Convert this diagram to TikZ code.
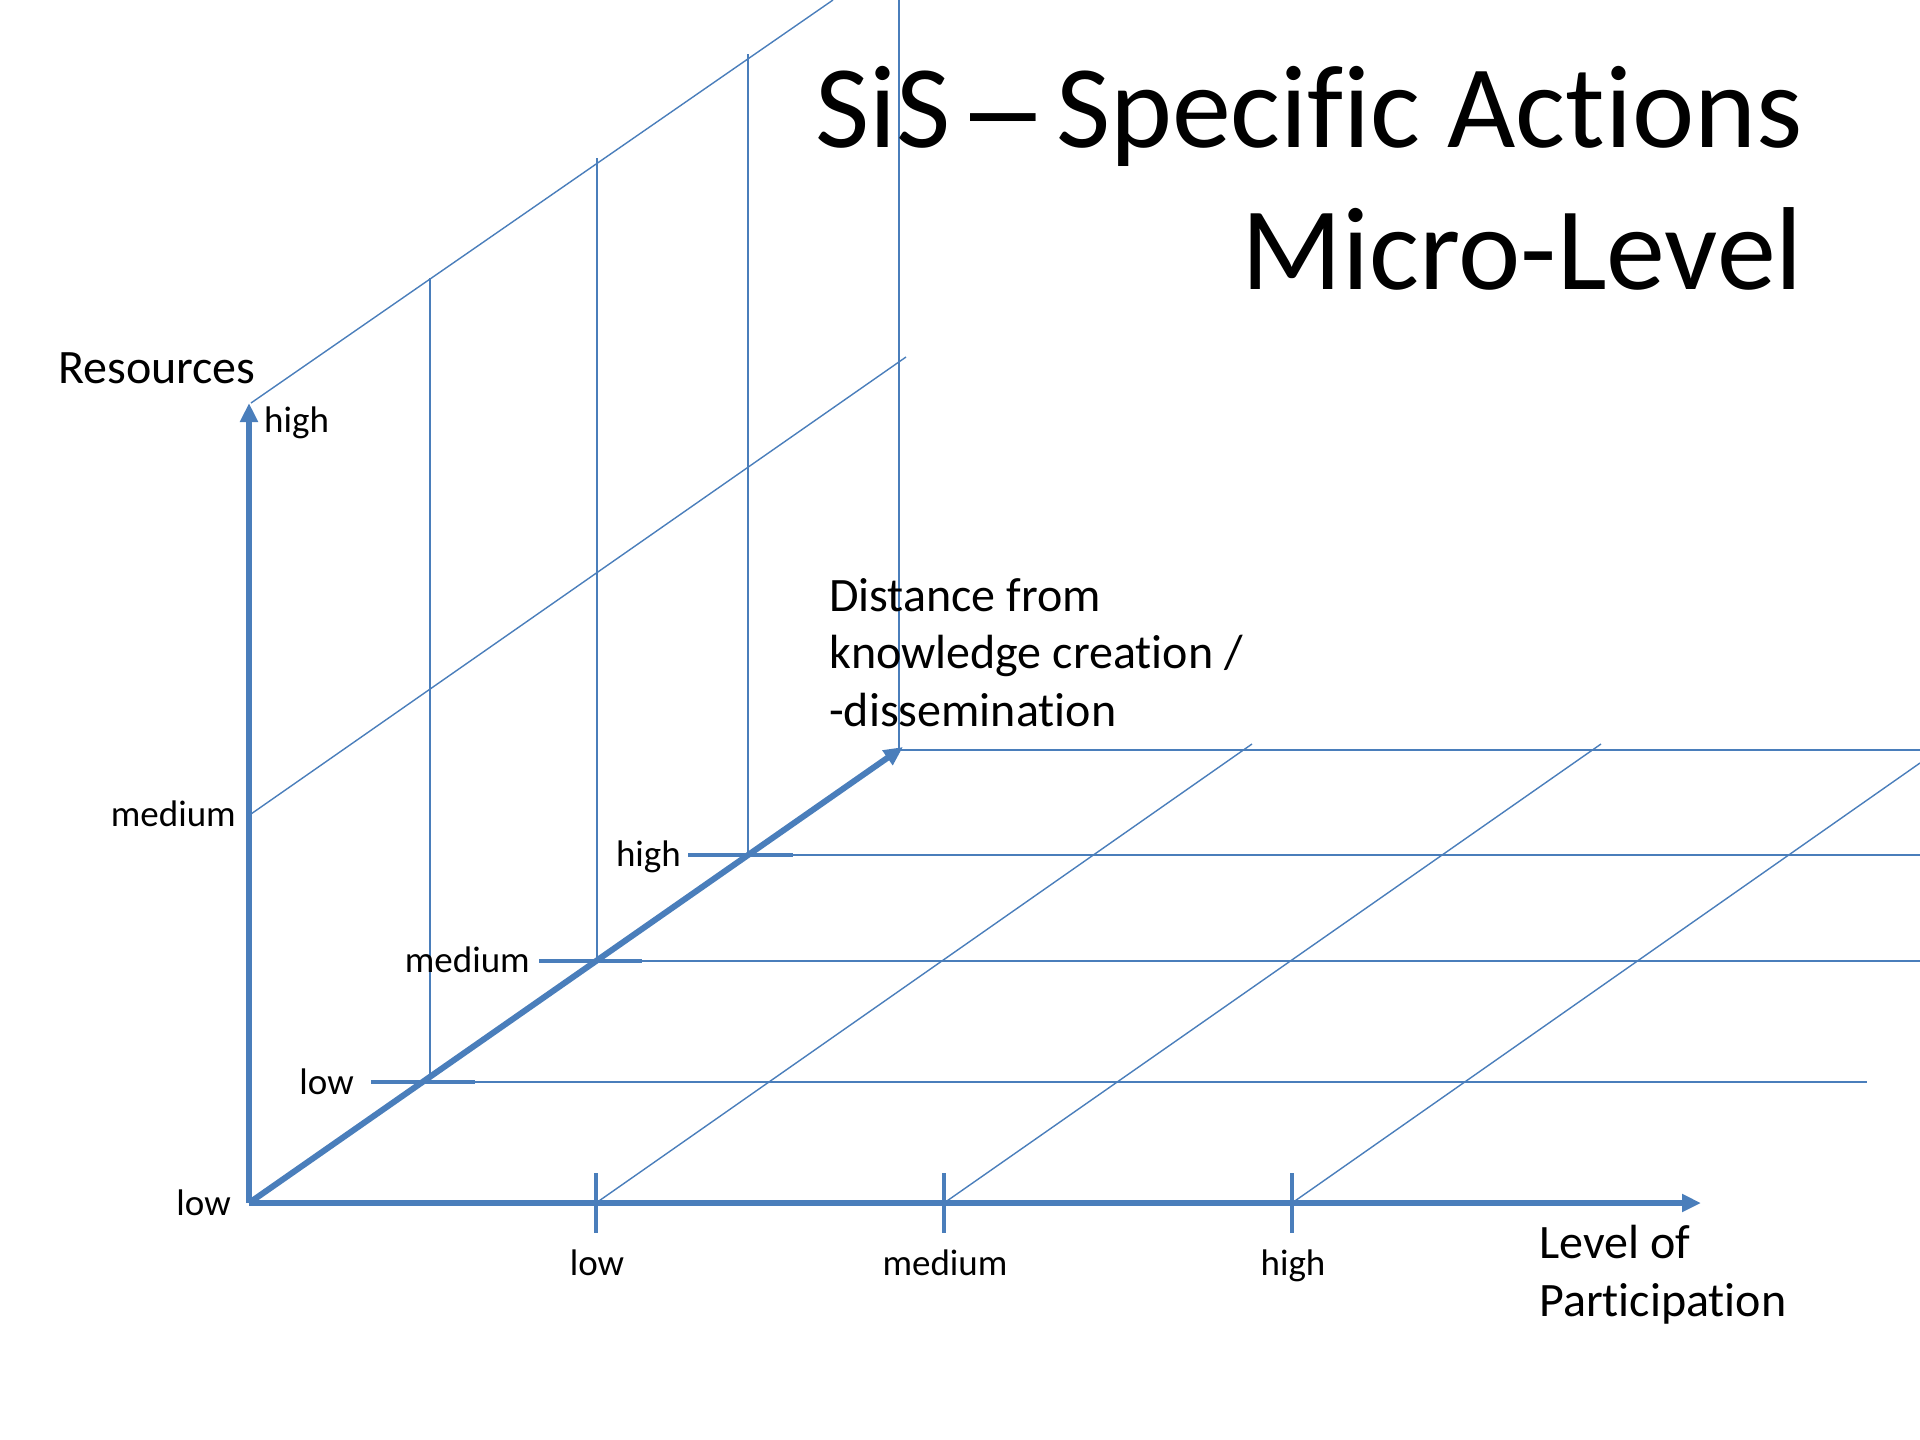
\documentclass[tikz,border=0pt]{standalone}
\usepackage{fontspec}
\setmainfont{Carlito}[Ligatures=NoCommon]
\newfontfamily\dashfont{Liberation Sans}
\usetikzlibrary{arrows.meta}
\definecolor{ax}{HTML}{4A7EBB}
\begin{document}
\begin{tikzpicture}[x=1pt,y=-1pt,
  axisline/.style={draw=ax,line width=6pt,-{Triangle[length=19pt,width=17pt]}},
  tickline/.style={draw=ax,line width=3.5pt},
  thinline/.style={draw=ax,line width=1.4pt},
  hthin/.style={draw=ax,line width=2pt},
  small/.style={font=\fontsize{37}{44}\selectfont,inner sep=0pt},
  axlabel/.style={font=\fontsize{48}{57.5}\selectfont,inner sep=0pt},
  titlefont/.style={font=\fontsize{118}{142}\selectfont,inner sep=0pt}]
\useasboundingbox (0,0) rectangle (1920,1440);

% key points
\coordinate (O) at (249,1203);
\coordinate (Ytop) at (249,403);
\coordinate (Xend) at (1701,1203);
\coordinate (Zend) at (903,747);
\coordinate (Zc) at (899,750);
\coordinate (Zl) at (422,1082);
\coordinate (Zm) at (596,961);
\coordinate (Zh) at (747,855);

% thin horizontals
\coordinate (HlE) at (1867,1082);
\coordinate (HmE) at (1920,961);
\coordinate (HhE) at (1920,855);
\coordinate (HtE) at (1920,750);
\draw[hthin] (Zl) -- (HlE);
\draw[hthin] (Zm) -- (HmE);
\draw[hthin] (Zh) -- (HhE);
\draw[hthin] (Zc) -- (HtE);

% vertical thin lines
\coordinate (V1b) at (430,1078); \coordinate (V1t) at (430,278);
\coordinate (V2b) at (597,961);  \coordinate (V2t) at (597,158);
\coordinate (V3b) at (748,855);  \coordinate (V3t) at (748,54);
\coordinate (V4t) at (899,0);
\draw[thinline] (V1b) -- (V1t);
\draw[thinline] (V2b) -- (V2t);
\draw[thinline] (V3b) -- (V3t);
\draw[draw=ax,line width=2.4pt] (Zc) -- (V4t);

% upper diagonals from the vertical axis
\coordinate (Ym) at (251,814);
\coordinate (DmE) at (906,357);
\coordinate (Yh) at (251,403);
\coordinate (DtE) at (833,0);
\draw[thinline] (Ym) -- (DmE);
\draw[thinline] (Yh) -- (DtE);

% diagonals from the horizontal axis ticks
\coordinate (X1) at (596,1203); \coordinate (D1E) at (1252,744);
\coordinate (X2) at (944,1203); \coordinate (D2E) at (1601,744);
\coordinate (X3) at (1292,1203); \coordinate (D3E) at (1920,763);
\draw[thinline] (X1) -- (D1E);
\draw[thinline] (X2) -- (D2E);
\draw[thinline] (X3) -- (D3E);

% ticks on the diagonal axis
\coordinate (TlA) at (371,1082); \coordinate (TlB) at (475,1082);
\coordinate (TmA) at (539,961);  \coordinate (TmB) at (642,961);
\coordinate (ThA) at (688,855);  \coordinate (ThB) at (793,855);
\draw[tickline] (TlA) -- (TlB);
\draw[tickline] (TmA) -- (TmB);
\draw[tickline] (ThA) -- (ThB);

% ticks on the horizontal axis
\coordinate (X1a) at (596,1173); \coordinate (X1b) at (596,1233);
\coordinate (X2a) at (944,1173); \coordinate (X2b) at (944,1233);
\coordinate (X3a) at (1292,1173); \coordinate (X3b) at (1292,1233);
\draw[tickline] (X1a) -- (X1b);
\draw[tickline] (X2a) -- (X2b);
\draw[tickline] (X3a) -- (X3b);

% main axes
\draw[axisline] (O) -- (Ytop);
\draw[axisline] (O) -- (Xend);
\draw[axisline] (O) -- (Zend);

% labels: vertical axis
\node[axlabel,anchor=base west] (res) at (58,383) {Resources};
\node[small,anchor=base west] (yh) at (264,432) {high};
\node[small,anchor=base east] (ym) at (236,826) {medium};
\node[small,anchor=base east] (yl) at (231,1215) {low};

% labels: diagonal axis
\node[small,anchor=base east] (zh) at (681,866) {high};
\node[small,anchor=base east] (zm) at (530,972) {medium};
\node[small,anchor=base east] (zl) at (354,1094) {low};
\node[axlabel,anchor=base west] (dist1) at (829,611) {Distance from};
\node[axlabel,anchor=base west] (dist2) at (829,668) {knowledge creation /};
\node[axlabel,anchor=base west] (dist3) at (829,726) {-dissemination};

% labels: horizontal axis
\node[small,anchor=base] (xl) at (597,1275) {low};
\node[small,anchor=base] (xm) at (945,1275) {medium};
\node[small,anchor=base] (xh) at (1293,1275) {high};
\node[axlabel,anchor=base west] (lev1) at (1539,1258) {Level of};
\node[axlabel,anchor=base west] (lev2) at (1539,1316) {Participation};

% title
\node[titlefont,anchor=base east] (t1) at (1803,147) {SiS\kern-7pt\ {\dashfont –}\ \kern-7pt Specific Actions};
\node[titlefont,anchor=base east] (t2) at (1803,289) {Micro-Level};
\end{tikzpicture}
\end{document}
